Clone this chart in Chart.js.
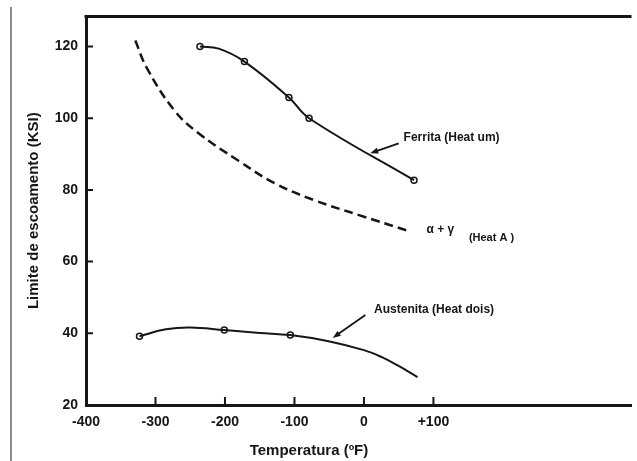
<!DOCTYPE html>
<html>
<head>
<meta charset="utf-8">
<script src="https://cdn.jsdelivr.net/npm/chart.js@4.4.1/dist/chart.umd.min.js"></script>
<style>
  html, body { margin: 0; padding: 0; background: #fff; overflow: hidden; }
  #wrap { position: relative; width: 637px; height: 461px; }
  #chart { position: absolute; left: 0; top: 0; }
  #edge { position: absolute; left: 10px; top: 7px; bottom: 0; width: 2px; background: #8c8c8c; }
</style>
</head>
<body>
<div id="wrap">
  <canvas id="chart" width="637" height="461"></canvas>
  <div id="edge"></div>
</div>
<script>
const INK = "#161616";
const FONT = "'Liberation Sans', Arial, sans-serif";

// ticks
const xTicks = [-400, -300, -200, -100, 0, 100];
const xTickLabels = ["-400", "-300", "-200", "-100", "0", "+100"];
const yTicks = [20, 40, 60, 80, 100, 120];

// Ferrita (Heat um) – curve and measured points
const ferritaCurveTemp = [-236, -209, -172, -108, -79, 72];
const ferritaCurveKsi  = [120, 119.4, 115.8, 105.8, 100, 82.7];
const ferritaTemp = [-236, -172, -108, -79, 72];
const ferritaKsi  = [120, 115.8, 105.8, 100, 82.7];

// alpha + gamma (Heat A) – dashed, no points
const alfaGamaTemp = [-329, -313, -273, -238, -181, -128, -71, -6, 65];
const alfaGamaKsi  = [121.7, 114.2, 102.2, 95.8, 88.2, 81.8, 77.1, 72.9, 68.5];

// Austenita (Heat dois)
const austCurveTemp = [-323, -285, -250, -201, -150, -106, -51, 0, 25, 48, 77];
const austCurveKsi  = [39.2, 41.1, 41.6, 40.9, 40.1, 39.5, 37.8, 35.3, 33.4, 31.1, 27.8];
const austTemp = [-323, -201, -106];
const austKsi  = [39.2, 40.9, 39.5];

function pts(xs, ys) { return xs.map((x, i) => ({ x, y: ys[i] })); }

function curve(xs, ys, dash) {
  return {
    data: pts(xs, ys), borderColor: INK, borderWidth: dash ? 2.5 : 2,
    borderDash: dash || [], tension: 0.4, pointRadius: 0, fill: false,
  };
}
function marks(xs, ys) {
  return {
    data: pts(xs, ys), showLine: false, pointRadius: 3, pointStyle: "circle",
    pointBackgroundColor: "#fff", pointBorderColor: INK, pointBorderWidth: 1.5,
  };
}

// annotation texts and arrows, in data units
const notes = [
  { text: "Ferrita (Heat um)", x: 57, y: 94.7, size: 12 },
  { text: "\u03b1 + \u03b3", x: 90, y: 68.8, size: 12 },
  { text: "(Heat A )", x: 151, y: 66.5, size: 11 },
  { text: "Austenita (Heat dois)", x: 14.6, y: 46.5, size: 12 },
];
const arrows = [
  { from: [50, 93], to: [9, 90.2] },
  { from: [2, 45.1], to: [-45, 38.7] },
];

const framePlugin = {
  id: "frame",
  afterDraw(chart) {
    const { ctx, chartArea: a, scales: { x, y } } = chart;
    ctx.save();
    ctx.strokeStyle = INK;
    ctx.lineWidth = 3;
    ctx.beginPath();
    ctx.moveTo(a.left - 1.5, a.top);
    ctx.lineTo(a.right, a.top);
    ctx.stroke();

    // tick marks pointing inward
    ctx.lineWidth = 2;
    ctx.beginPath();
    x.ticks.forEach(t => {
      if (t.value === x.min) return;
      const px = x.getPixelForValue(t.value);
      ctx.moveTo(px, a.bottom);
      ctx.lineTo(px, a.bottom - 8);
    });
    y.ticks.forEach(t => {
      if (t.value === y.min) return;
      const py = y.getPixelForValue(t.value);
      ctx.moveTo(a.left, py);
      ctx.lineTo(a.left + 7, py);
    });
    ctx.stroke();

    // labels on the curves
    ctx.fillStyle = INK;
    ctx.textAlign = "left";
    ctx.textBaseline = "middle";
    notes.forEach(n => {
      ctx.font = `bold ${n.size}px ${FONT}`;
      ctx.fillText(n.text, x.getPixelForValue(n.x), y.getPixelForValue(n.y));
    });

    ctx.lineWidth = 1.8;
    arrows.forEach(ar => {
      const x0 = x.getPixelForValue(ar.from[0]), y0 = y.getPixelForValue(ar.from[1]);
      const x1 = x.getPixelForValue(ar.to[0]), y1 = y.getPixelForValue(ar.to[1]);
      const ang = Math.atan2(y1 - y0, x1 - x0);
      ctx.beginPath();
      ctx.moveTo(x0, y0);
      ctx.lineTo(x1 - 5 * Math.cos(ang), y1 - 5 * Math.sin(ang));
      ctx.stroke();
      ctx.beginPath();
      ctx.moveTo(x1, y1);
      ctx.lineTo(x1 - 8 * Math.cos(ang) + 3 * Math.sin(ang), y1 - 8 * Math.sin(ang) - 3 * Math.cos(ang));
      ctx.lineTo(x1 - 8 * Math.cos(ang) - 3 * Math.sin(ang), y1 - 8 * Math.sin(ang) + 3 * Math.cos(ang));
      ctx.closePath();
      ctx.fill();
    });

    // x axis title
    ctx.font = `bold 15px ${FONT}`;
    ctx.textAlign = "center";
    ctx.textBaseline = "alphabetic";
    ctx.fillText("Temperatura (\u00baF)", 309, 455);
    ctx.restore();
  }
};

new Chart(document.getElementById("chart"), {
  type: "line",
  data: {
    datasets: [
      curve(ferritaCurveTemp, ferritaCurveKsi),
      marks(ferritaTemp, ferritaKsi),
      curve(alfaGamaTemp, alfaGamaKsi, [9, 5]),
      curve(austCurveTemp, austCurveKsi),
      marks(austTemp, austKsi),
    ],
  },
  options: {
    responsive: false,
    animation: false,
    layout: { padding: { top: 16, right: 0, bottom: 0, left: 0 } },
    plugins: { legend: { display: false }, tooltip: { enabled: false } },
    scales: {
      x: {
        type: "linear", min: -400, max: 385,
        afterBuildTicks: s => { s.ticks = xTicks.map(v => ({ value: v })); },
        afterFit: s => { s.height = 56; },
        grid: { display: false, drawTicks: false },
        border: { display: true, width: 3, color: INK },
        ticks: {
          autoSkip: false, maxRotation: 0, padding: 9, color: INK,
          font: { family: FONT, size: 14, weight: "bold" },
          callback: (v, i) => xTickLabels[i],
        },
      },
      y: {
        min: 20, max: 128.4,
        afterBuildTicks: s => { s.ticks = yTicks.map(v => ({ value: v })); },
        afterFit: s => { s.width = 86; },
        grid: { display: false, drawTicks: false },
        border: { display: true, width: 3, color: INK },
        ticks: { padding: 8, color: INK, font: { family: FONT, size: 14, weight: "bold" } },
        title: {
          display: true, text: "Limite de escoamento (KSI)", color: INK,
          font: { family: FONT, size: 15, weight: "bold" }, padding: { top: 25, bottom: 0 },
        },
      },
    },
  },
  plugins: [framePlugin],
});
</script>
</body>
</html>
